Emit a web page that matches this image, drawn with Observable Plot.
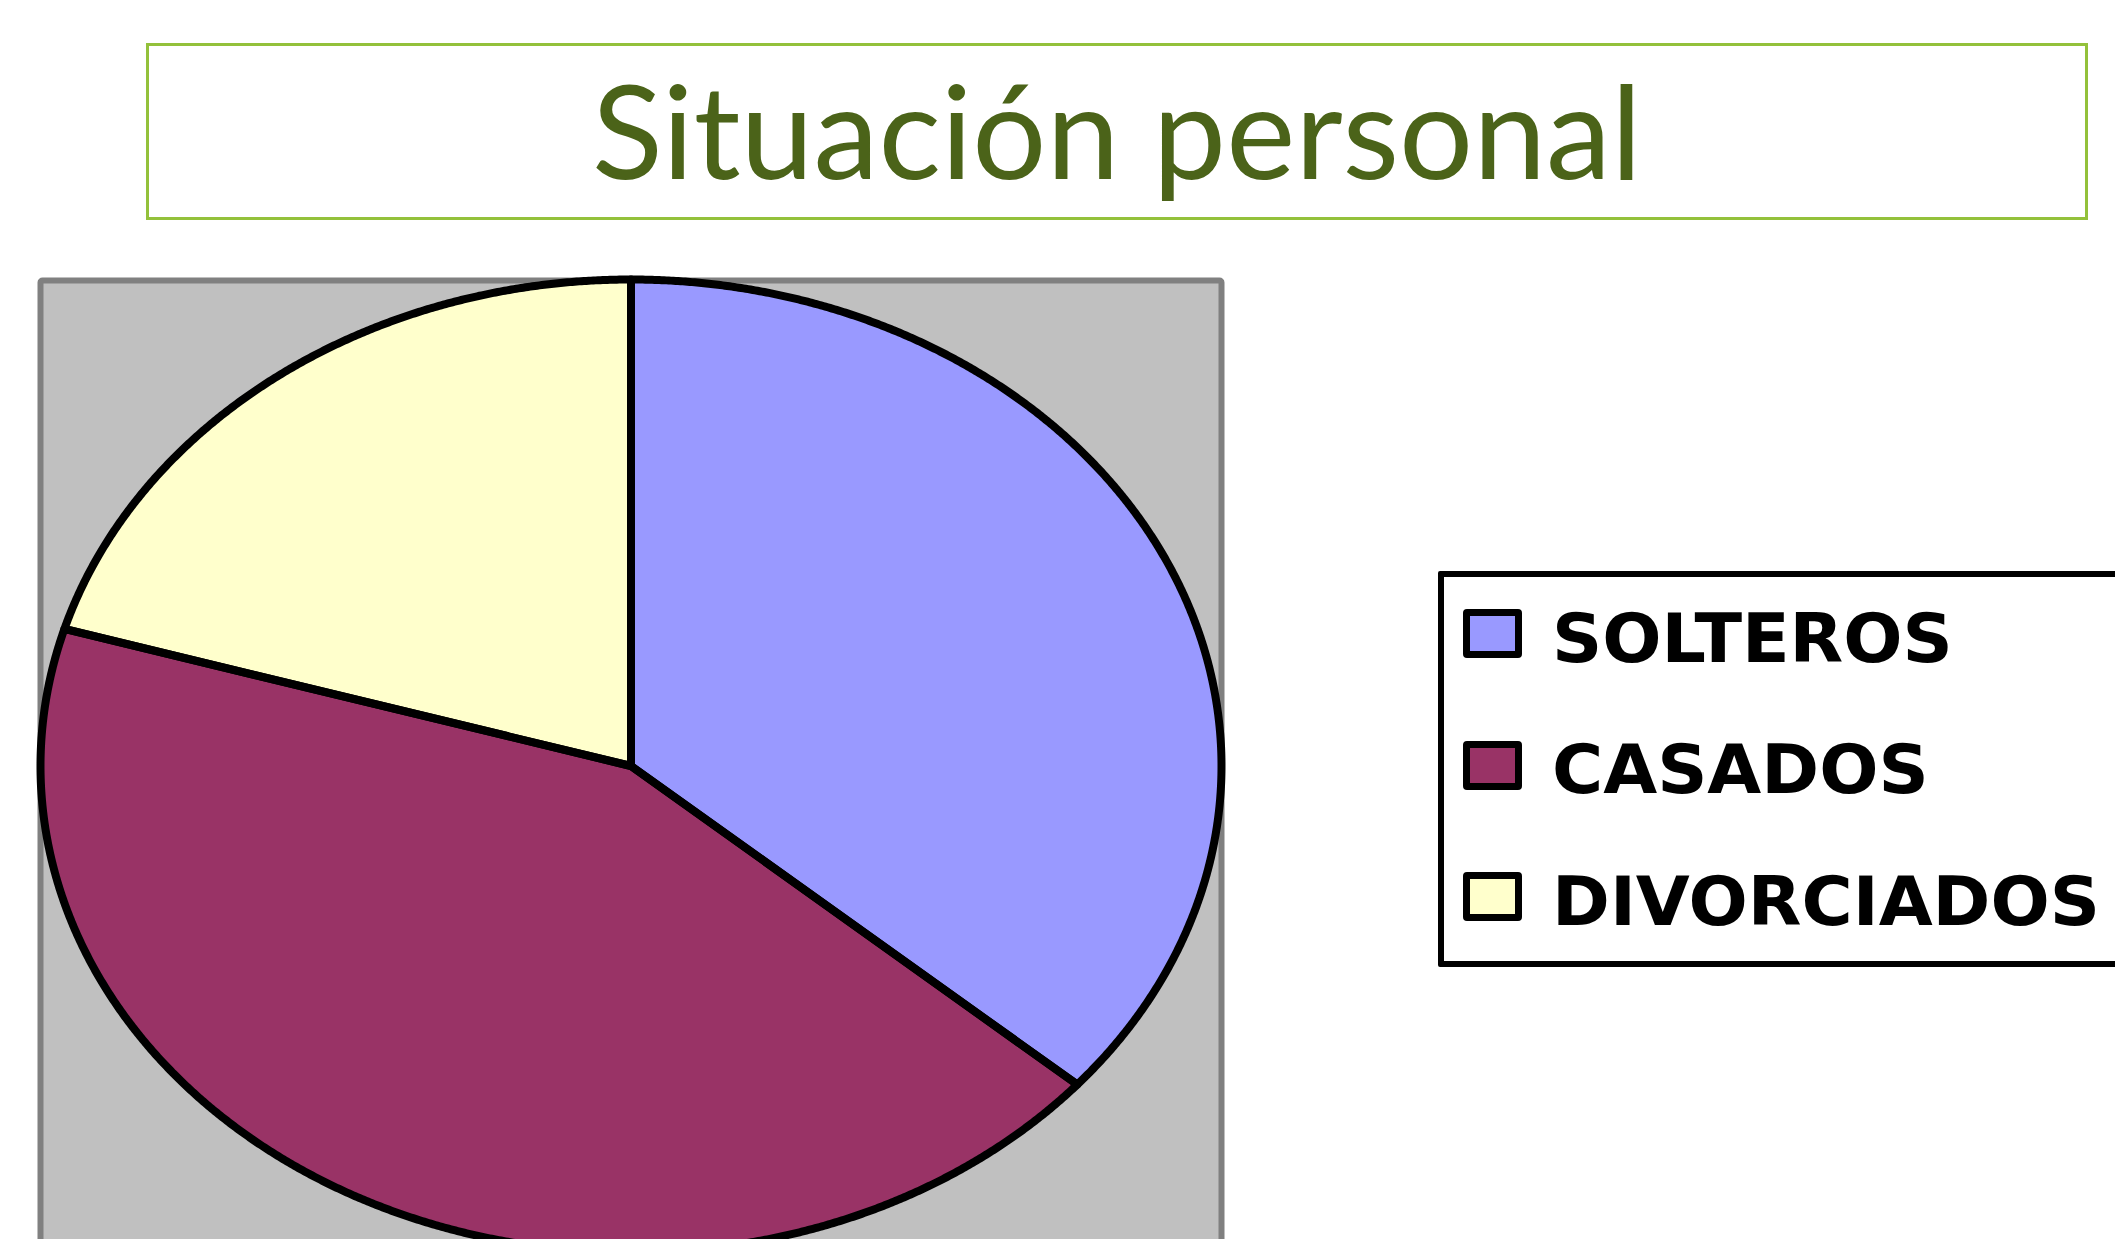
<!DOCTYPE html>
<html>
<head>
<meta charset="utf-8">
<script src="https://cdn.jsdelivr.net/npm/d3@7"></script>
<script src="https://cdn.jsdelivr.net/npm/@observablehq/plot@0.6"></script>
<style>
  html, body { margin: 0; padding: 0; background: #fff; }
  #page { position: relative; width: 2115px; height: 1239px; overflow: hidden; background: #fff; }
  #titlebox { position: absolute; left: 146px; top: 43px; width: 1942px; height: 177px; box-sizing: border-box;
    border: 3px solid #93c13b; }
  #title { position: absolute; left: 146px; width: 1942px; text-align: center; top: 51px; font-family: Lato, sans-serif;
    font-size: 130px; line-height: 1.2; color: #4b6319; white-space: nowrap; }
  #title span { display: inline-block; transform-origin: center; }
  #chart { position: absolute; left: 0; top: 0; }
  #legend { position: absolute; left: 1438px; top: 571px; width: 760px; height: 396px; box-sizing: border-box;
    border: 6px solid #000; border-radius: 2px; background: #fff; }
  .sw { position: absolute; width: 59px; height: 49px; box-sizing: border-box; border: 7px solid #000; border-radius: 4px; }
  .lt { position: absolute; font-family: "DejaVu Sans", sans-serif; font-weight: bold; font-size: 67px; line-height: 1.164;
    color: #000; white-space: nowrap; transform-origin: left center; }
</style>
</head>
<body>
<div id="page">
  <div id="chart"></div>
  <div id="titlebox"></div>
  <div id="title"></div>
  <div id="legend"></div>
</div>
<script>
const categories = ["SOLTEROS", "CASADOS", "DIVORCIADOS"];
const values = [16, 19, 9];
const colors = ["#9999ff", "#993366", "#ffffcc"];
const titleText = "Situación personal";

// pie geometry computed from the data
const arcs = d3.pie().sort(null).value(d => d)(values);
const pts = [];
arcs.forEach((a, i) => {
  pts.push({cat: categories[i], x: 0, y: 0});
  const n = Math.max(2, Math.ceil((a.endAngle - a.startAngle) / 0.004));
  for (let k = 0; k <= n; k++) {
    const t = a.startAngle + (a.endAngle - a.startAngle) * k / n;
    pts.push({cat: categories[i], x: Math.sin(t), y: Math.cos(t)});
  }
});

const chart = Plot.plot({
  width: 1260,
  height: 1260,
  marginLeft: 40,
  marginRight: 39,
  marginTop: 279,
  marginBottom: 8,
  x: {domain: [-1, 1], axis: null},
  y: {domain: [-1, 1], axis: null},
  color: {domain: categories, range: colors},
  style: {background: "transparent"},
  marks: [
    Plot.frame({fill: "#c0c0c0", stroke: "#808080", strokeWidth: 6, insetLeft: 0, insetRight: 0, insetTop: 1, insetBottom: -200, rx: 2}),
    Plot.line(pts, {x: "x", y: "y", z: "cat", fill: "cat", stroke: "none", curve: "linear-closed"}),
    Plot.line(pts, {x: "x", y: "y", z: "cat", fill: "none", stroke: "#000", strokeWidth: 8,
      curve: "linear-closed", strokeLinejoin: "round"})
  ]
});
document.getElementById("chart").appendChild(chart);

// title
const tEl = document.getElementById("title");
const tSpan = document.createElement("span");
tSpan.textContent = titleText;
tEl.appendChild(tSpan);

// legend
const leg = document.getElementById("legend");
const textEls = [];
const L0 = 1444, T0 = 577; // legend inner origin
categories.forEach((c, i) => {
  const sw = document.createElement("div");
  sw.className = "sw";
  sw.style.left = (1463 - L0) + "px";
  sw.style.top = (609 - T0 + i * 131.5) + "px";
  sw.style.background = colors[i];
  leg.appendChild(sw);
  const t = document.createElement("div");
  t.className = "lt";
  t.textContent = c;
  t.style.left = (1552 - L0) + "px";
  t.style.top = (662 - T0 - 0.928 * 67 + i * 131.5) + "px";
  leg.appendChild(t);
  textEls.push(t);
});

function fit() {
  tSpan.style.transform = "none";
  const tw = tSpan.getBoundingClientRect().width;
  tSpan.style.transform = `scaleX(${1050 / tw})`;
  textEls.forEach(e => e.style.transform = "none");
  const dw = textEls[2].getBoundingClientRect().width;
  const s = 548 / dw;
  textEls.forEach(e => e.style.transform = `scaleX(${s})`);
}
fit();
if (document.fonts && document.fonts.ready) document.fonts.ready.then(fit);
</script>
</body>
</html>
